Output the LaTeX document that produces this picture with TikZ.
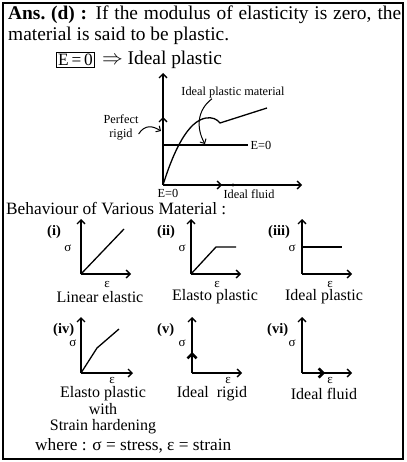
\documentclass[tikz,border=0pt]{standalone}
\usepackage{fontspec}
\setmainfont{Liberation Serif}
\usetikzlibrary{arrows.meta,positioning}
\tikzset{
  axis/.style={line width=1.3pt,-{Straight Barb[length=4pt,width=8pt]}},
  curve/.style={line width=1.3pt},
  pointer/.style={line width=1pt,-{Straight Barb[length=3.5pt,width=7pt]}},
  bigarrow/.style={line width=2.6pt,-{Straight Barb[length=4.5pt,width=9pt]}},
  head/.style={font=\fontsize{19.4}{21}\selectfont,inner sep=0pt},
  body/.style={font=\fontsize{17.3}{21}\selectfont,inner sep=0pt},
  lbl/.style={font=\fontsize{12.3}{14}\selectfont,inner sep=0pt},
  tag/.style={font=\bfseries\fontsize{14.5}{16}\selectfont,inner sep=0pt,anchor=west},
  sym/.style={font=\fontsize{13}{15}\selectfont,inner sep=0pt},
  capt/.style={font=\fontsize{16}{16.5}\selectfont,inner sep=0pt,align=center}
}

\begin{document}
\begin{tikzpicture}[x=1pt,y=-1pt]
  \useasboundingbox (0,0) rectangle (406,462);
  \draw[line width=1.2pt] (3,3) rectangle (403,459);

  % statement
  \node[head,anchor=north west,text width=393pt,align=justify] (ans) at (8,5.5)
    {\textbf{Ans.~(d)~:} If the modulus of elasticity is zero, the\linebreak material is said to be plastic.};
  \node[body,draw,line width=1pt,inner sep=1.5pt] (Ebox) at (75.5,60) {E\,=\,0};
  \node[head,right=7pt of Ebox] (Eimp) {$\Rightarrow$ Ideal plastic};

  % main graph
  \coordinate (O) at (163,185);
  \draw[axis] (O) -- (163,73);
  \draw[axis] (O) -- (163,117);
  \draw[axis] (O) -- (302,185);
  \draw[axis] (O) -- (222,185);
  \fill (233,185) circle (1.7);
  \draw[curve] (163,145) -- (248,145) node[lbl,right=2pt] (Ezero) {E=0};
  \draw[curve] (O) .. controls (174,150) and (188,121) .. (206,118)
    .. controls (212,117) and (217,119) .. (220,123) -- (267,108);
  \node[lbl] (ipm) at (233,93) {Ideal plastic material};
  \coordinate (ipmTip) at (205,144);
  \draw[pointer] ([xshift=-21pt]ipm.south) .. controls (197,110) and (196,128) .. (ipmTip);
  \node[lbl,align=center] (rigid) at (121,127) {Perfect\\rigid};
  \coordinate (rigidTip) at (161,131);
  \draw[pointer] ([yshift=-7pt]rigid.east) .. controls (145,124) and (153,126) .. (rigidTip);
  \node[lbl] (eO) at (168,193) {E=0};
  \node[lbl] (fluid) at (249,194) {Ideal fluid};

  \node[body,anchor=west] (behav) at (6,209) {Behaviour of Various Material :};

  % (i)
  \begin{scope}[shift={(81,274)}]
    \draw[axis] (0,0) -- (0,-55);
    \draw[axis] (0,0) -- (50,0);
    \draw[curve] (0,0) -- (43,-45);
    \node[tag] (tagI) at (-34,-42) {(i)};
    \node[sym] (sigI) at (-13,-26) {σ};
    \node[sym] (epsI) at (26,10) {ε};
    \node[capt] (capI) at (19,23) {Linear elastic};
  \end{scope}

  % (ii)
  \begin{scope}[shift={(191,274)}]
    \draw[axis] (0,0) -- (0,-55);
    \draw[axis] (0,0) -- (50,0);
    \draw[curve] (0,0) -- (25,-27) -- (45,-27);
    \node[tag] (tagII) at (-34,-42) {(ii)};
    \node[sym] (sigII) at (-9,-26) {σ};
    \node[sym] (epsII) at (26,10) {ε};
    \node[capt] (capII) at (24,23) {Elasto plastic};
  \end{scope}

  % (iii)
  \begin{scope}[shift={(302,274)}]
    \draw[axis] (0,0) -- (0,-55);
    \draw[axis] (0,0) -- (50,0);
    \draw[curve] (0,-27) -- (40,-27);
    \node[tag] (tagIII) at (-34,-42) {(iii)};
    \node[sym] (sigIII) at (-10,-26) {σ};
    \node[sym] (epsIII) at (28,10) {ε};
    \node[capt] (capIII) at (22,23) {Ideal plastic};
  \end{scope}

  % (iv)
  \begin{scope}[shift={(81,373)}]
    \draw[axis] (0,0) -- (0,-56);
    \draw[axis] (0,0) -- (52,0);
    \draw[curve] (0,0) -- (16,-25) -- (38,-44);
    \node[tag] (tagIV) at (-28,-43) {(iv)};
    \node[sym] (sigIV) at (-8,-30) {σ};
    \node[sym] (epsIV) at (31,7) {ε};
    \node[capt] (capIV) at (22,37.5) {Elasto plastic\\with\\Strain hardening};
  \end{scope}

  % (v)
  \begin{scope}[shift={(192,373)}]
    \draw[axis] (0,0) -- (0,-56);
    \draw[axis] (0,0) -- (50,0);
    \draw[bigarrow] (0,0) -- (0,-21);
    \node[tag] (tagV) at (-35,-43) {(v)};
    \node[sym] (sigV) at (-10,-30) {σ};
    \node[sym] (epsV) at (36,7) {ε};
    \node[capt] (capV) at (20,21) {Ideal\ \ rigid};
  \end{scope}

  % (vi)
  \begin{scope}[shift={(302,373)}]
    \draw[axis] (0,0) -- (0,-56);
    \draw[axis] (0,0) -- (50,0);
    \draw[bigarrow] (0,0) -- (23,0);
    \node[tag] (tagVI) at (-35,-43) {(vi)};
    \node[sym] (sigVI) at (-10,-30) {σ};
    \node[sym] (epsVI) at (28,7) {ε};
    \node[capt] (capVI) at (22,21) {Ideal fluid};
  \end{scope}

  \node[body,anchor=west] (where) at (35,446) {where : σ = stress, ε = strain};
\end{tikzpicture}
\end{document}
